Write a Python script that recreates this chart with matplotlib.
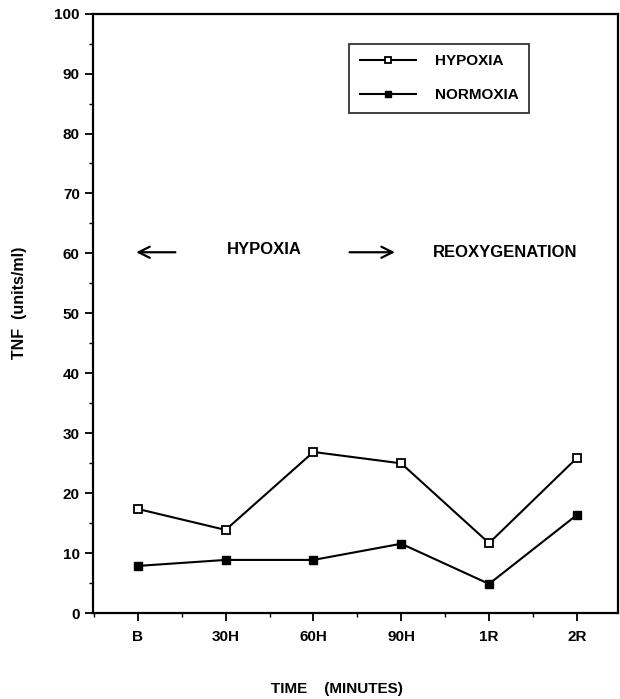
import numpy as np
import matplotlib
matplotlib.use('Agg')
import matplotlib.pyplot as plt
from matplotlib.ticker import MultipleLocator

plt.rcParams['font.family'] = ['Liberation Sans', 'DejaVu Sans']
plt.rcParams['font.weight'] = 'bold'

times = ['B', '30H', '60H', '90H', '1R', '2R']
hypoxia = [17.4, 13.9, 26.9, 25.0, 11.7, 25.9]
normoxia = [7.9, 8.9, 8.9, 11.6, 4.9, 16.4]

fig = plt.figure(figsize=(6.2, 6.99), dpi=100)
ax = fig.add_axes([0.15, 0.1226, 0.847, 0.858])

x = np.arange(len(times))
ax.plot(x, hypoxia, color='black', lw=1.5, marker='s', ms=6,
        mfc='white', mec='black', mew=1.3, label='HYPOXIA')
ax.plot(x, normoxia, color='black', lw=1.5, marker='s', ms=6,
        mfc='black', mec='black', label='NORMOXIA')

ax.set_xlim(-0.51, 5.47)
ax.set_ylim(0, 100)
ax.set_xticks(x)
ax.set_xticklabels(times)
ax.xaxis.set_minor_locator(MultipleLocator(0.5))
ax.yaxis.set_major_locator(MultipleLocator(10))
ax.yaxis.set_minor_locator(MultipleLocator(5))
ax.tick_params(which='major', length=6, width=1.3, labelsize=11)
ax.tick_params(which='minor', length=3, width=1)
ax.tick_params(axis='x', pad=6)
for s in ax.spines.values():
    s.set_linewidth(1.6)

ax.set_ylabel('TNF  (units/ml)', fontsize=11.5, fontweight='bold')
ax.yaxis.set_label_coords(-0.125, 0.518)
ax.set_xlabel('TIME    (MINUTES)', fontsize=11, fontweight='bold', va='center')
ax.xaxis.set_label_coords(0.465, -0.127)

# phase annotations
ax.annotate('', xy=(-0.05, 60.2), xytext=(0.46, 60.2),
            arrowprops=dict(arrowstyle='->', color='black', lw=1.6,
                            mutation_scale=20))
ax.text(1.44, 60.6, 'HYPOXIA', ha='center', va='center', fontsize=12,
        fontweight='bold')
ax.annotate('', xy=(2.96, 60.2), xytext=(2.38, 60.2),
            arrowprops=dict(arrowstyle='->', color='black', lw=1.6,
                            mutation_scale=20))
ax.text(4.18, 60.2, 'REOXYGENATION', ha='center', va='center', fontsize=12,
        fontweight='bold')

leg = ax.legend(loc='upper left', bbox_to_anchor=(0.488, 0.95), frameon=True,
                fancybox=False, edgecolor='black', fontsize=11,
                handlelength=3.7, borderpad=0.7, labelspacing=1.3,
                handletextpad=1.2, borderaxespad=0, markerscale=0.75)
leg.get_frame().set_linewidth(1.3)

fig.savefig('out.png', dpi=100)
